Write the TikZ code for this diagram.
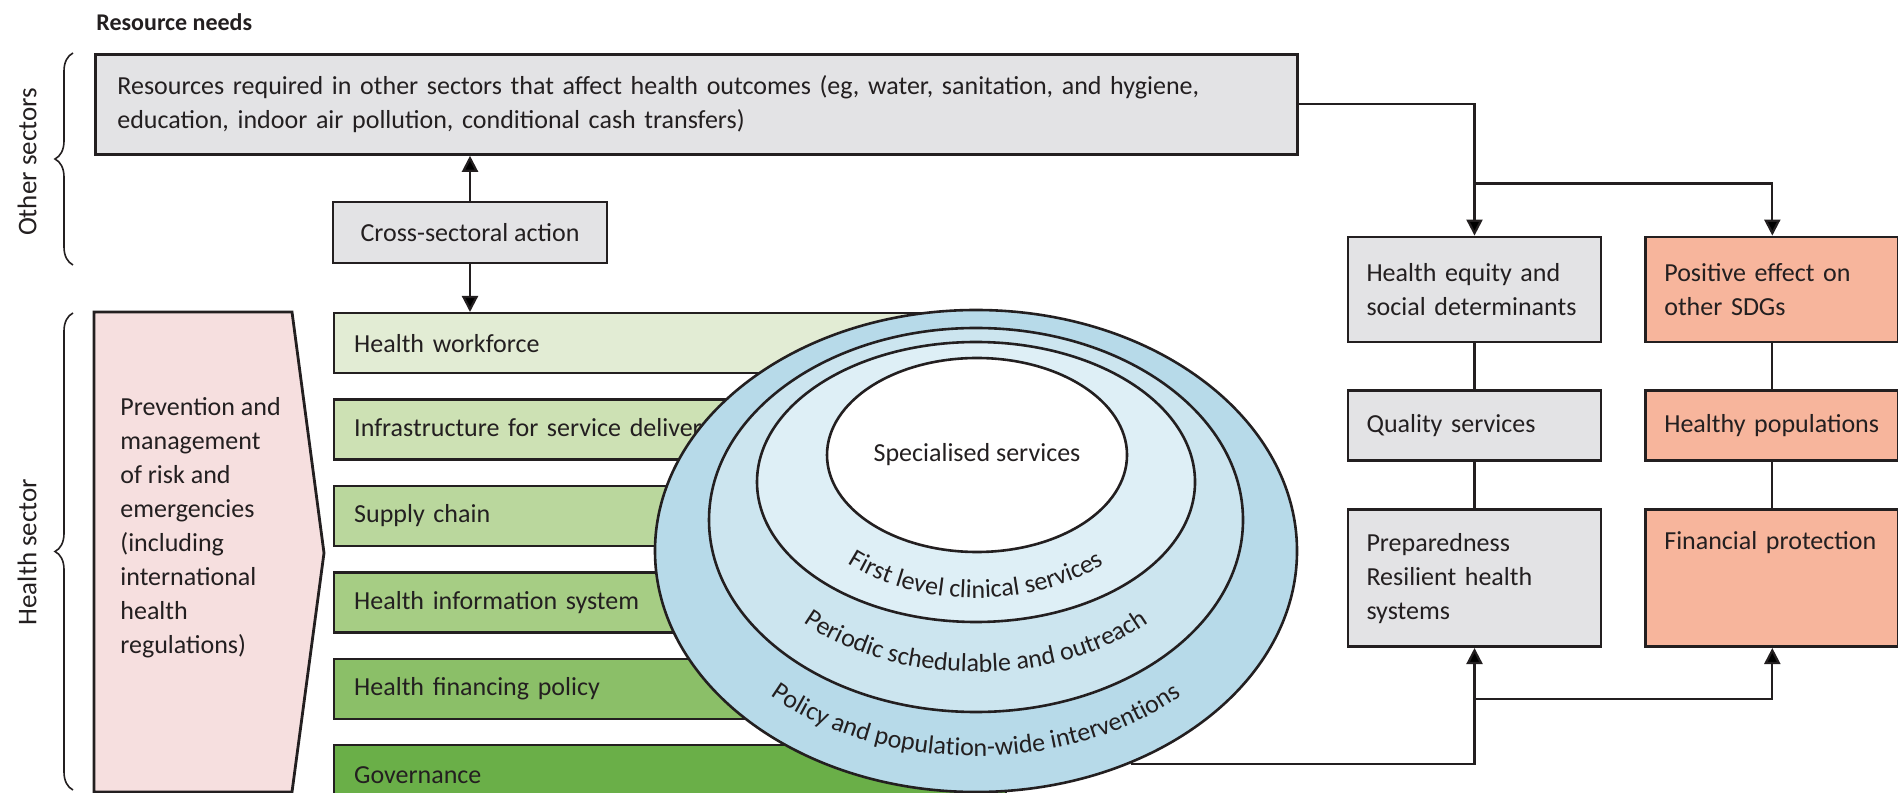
\documentclass[tikz,border=0pt]{standalone}
\usepackage{fontspec}
\setmainfont{Carlito}
\usepackage{tikz}
\usetikzlibrary{positioning,calc,shapes.geometric,decorations,decorations.pathreplacing,decorations.text,arrows.meta}
\usepackage{xcolor}
\definecolor{inkc}{RGB}{35,31,32}
\definecolor{boxgrey}{RGB}{227,227,229}
\definecolor{salmon}{RGB}{247,181,156}
\definecolor{pinkbg}{RGB}{246,223,223}
\definecolor{ringa}{RGB}{183,218,233}
\definecolor{ringb}{RGB}{204,229,239}
\definecolor{ringc}{RGB}{222,239,246}
\definecolor{greena}{RGB}{226,236,212}
\definecolor{greenb}{RGB}{205,225,180}
\definecolor{greenc}{RGB}{186,215,157}
\definecolor{greend}{RGB}{166,205,132}
\definecolor{greene}{RGB}{139,191,104}
\definecolor{greenf}{RGB}{106,175,72}

\begin{document}
\begin{tikzpicture}[x=0.5pt,y=0.5pt,>={Triangle[length=8pt,width=8pt]},
  font=\fontsize{13}{17}\selectfont,text=inkc,
  box/.style={draw=inkc,line width=1.4pt,align=left},
  greybox/.style={box,fill=boxgrey,text width=108pt,inner xsep=9.25pt},
  salmonbox/.style={greybox,fill=salmon},
  bar/.style={box,line width=1.2pt,anchor=north west,text width=316pt,inner xsep=10pt,minimum height=30pt},
  ring/.style={ellipse,draw=inkc,line width=1.3pt,inner sep=0pt},
  link/.style={draw=inkc,line width=1.1pt},
  sidelabel/.style={rotate=90,font=\fontsize{13.5}{16}\selectfont}]
		\useasboundingbox (0,0) rectangle (1898,792);

		\node[anchor=west,inner sep=0pt,font=\bfseries\fontsize{12}{14}\selectfont] (needs) at (96,770) {Resource needs};
		\node[box,fill=boxgrey,anchor=north west,text width=579pt,inner xsep=11pt,minimum height=50pt] (res) at (94,739) {Resources required in other sectors that affect health outcomes (eg, water, sanitation, and hygiene,\\education, indoor air pollution, conditional cash transfers)};
		\node[box,fill=boxgrey,align=center,minimum width=137pt,minimum height=30.5pt] (cross) at (470,559.5) {Cross-sectoral action};

		\node[sidelabel] (othersec) at (27,630) {Other sectors};
		\node[sidelabel] (healthsec) at (27,240) {Health sector};
		\draw[decorate,decoration={brace,amplitude=9pt},line width=0.8pt,draw=inkc] (73,527) -- (73,739);
		\draw[decorate,decoration={brace,amplitude=9pt},line width=0.8pt,draw=inkc] (73,2) -- (73,479);

		\draw[box,fill=pinkbg] (94,480) -- (292,480) -- (324,239) -- (292,0) -- (94,0) -- cycle;
		\node[anchor=west,inner sep=0pt,align=left] (prevent) at (120,264) {Prevention and\\management\\of risk and\\emergencies\\(including\\international\\health\\regulations)};

		\node[bar,fill=greena] (hw) at (333,480) {Health workforce};
		\node[bar,fill=greenb,below=12pt of hw] (infra) {Infrastructure for service delivery};
		\node[bar,fill=greenc,below=12pt of infra] (supply) {Supply chain};
		\node[bar,fill=greend,below=12pt of supply] (his) {Health information system};
		\node[bar,fill=greene,below=12pt of his] (finpol) {Health financing policy};
		\node[bar,fill=greenf,below=12pt of finpol] (gov) {Governance};

		\node[ring,fill=ringa,minimum width=321pt,minimum height=241pt] (outer) at (976,241) {};
		\node[ring,fill=ringb,minimum width=267pt,minimum height=192pt] (periodic) at (976,272) {};
		\node[ring,fill=ringc,minimum width=219pt,minimum height=140pt] (firstlvl) at (976,310) {};
		\node[ring,fill=white,minimum width=150pt,minimum height=97pt] (special) at (977,337) {Specialised services};

		\path[decorate,decoration={text along path,text align=center,text color=inkc,
			text={|\fontsize{13}{15}\selectfont|First level clinical services}}]
			($(firstlvl.center)+(-186,8)$) arc[start angle=180,end angle=360,x radius=186,y radius=124];
		\path[decorate,decoration={text along path,text align=center,text color=inkc,
			text={|\fontsize{13}{15}\selectfont|Periodic schedulable and outreach}}]
			($(periodic.center)+(-234,0)$) arc[start angle=180,end angle=360,x radius=234,y radius=152];
		\path[decorate,decoration={text along path,text align=center,text color=inkc,
			text={|\fontsize{13}{15}\selectfont|Policy and population-wide interventions}}]
			($(outer.center)+(-290,0)$) arc[start angle=180,end angle=360,x radius=290,y radius=205];

		\node[greybox,minimum height=52.5pt] (equity) at (1474.5,502.5) {Health equity and\\social determinants};
		\node[greybox,minimum height=35pt,below=23pt of equity] (quality) {Quality services};
		\node[greybox,minimum height=68.5pt,below=23pt of quality] (prep) {Preparedness\\Resilient health\\systems};
		\node[salmonbox,minimum height=52.5pt,right=21pt of equity] (positive) {Positive effect on\\other SDGs};
		\node[salmonbox,minimum height=35pt,below=23pt of positive] (healthy) {Healthy populations};
		\node[salmonbox,text height=13pt,text depth=41.5pt,inner ysep=7pt,below=23pt of healthy] (finprot) {Financial protection};

		\coordinate (upjoin) at ($(equity.north)+(0,52)$);
		\coordinate (lowjoin) at ($(prep.south)+(0,-51)$);

		\draw[link,->] (cross.north) -- (cross.north |- res.south);
		\draw[link,->] (cross.south) -- (cross.south |- hw.north);
		\draw[link,->] (res.east) -| (equity.north);
		\draw[link,->] (upjoin) -| (positive.north);
		\draw[link] (equity) -- (quality);
		\draw[link] (quality) -- (prep);
		\draw[link] (positive) -- (healthy);
		\draw[link] (healthy) -- (finprot);
		\draw[link,->] (outer.-54) -| (prep.south);
		\draw[link,->] (lowjoin) -| (finprot.south);
\end{tikzpicture}
\end{document}
